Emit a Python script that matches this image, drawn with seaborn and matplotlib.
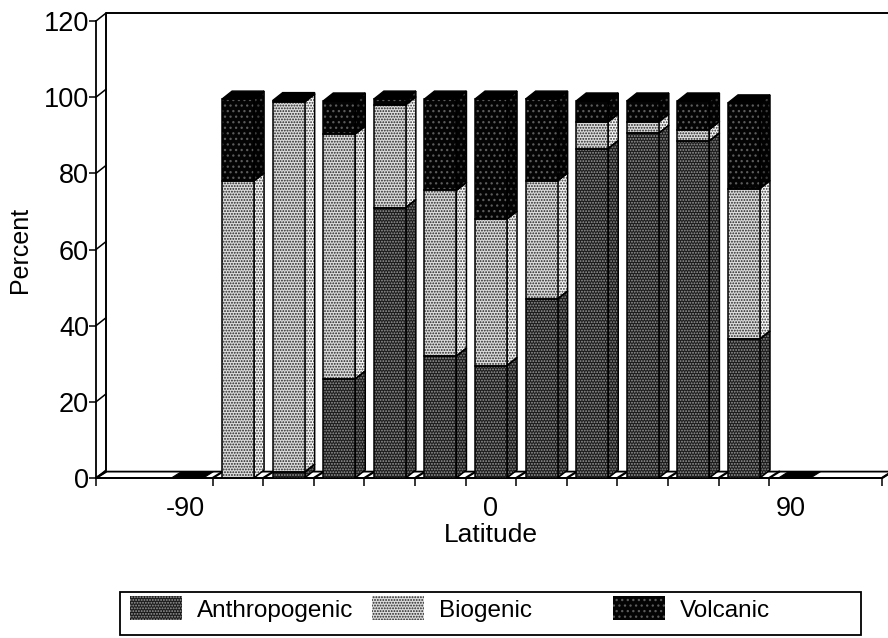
import numpy as np
import pandas as pd
import matplotlib
matplotlib.use("Agg")
import matplotlib.pyplot as plt
from matplotlib.patches import Polygon, Rectangle
import seaborn as sns

latitudes = [-90, -75, -60, -45, -30, -15, 0, 15, 30, 45, 60, 75, 90]
anthropogenic = [0, 0, 1.5, 26, 71, 32, 29.5, 47, 86.5, 90.5, 88.5, 36.5, 0]
biogenic = [0, 78, 97.2, 64.3, 27, 43.5, 38.5, 31, 7, 3, 3, 39.5, 0]
volcanic = [0, 21.5, 0.4, 8.7, 1.5, 24, 31.5, 21.5, 5.5, 5.5, 7.5, 22.5, 0]
series_names = ["Anthropogenic", "Biogenic", "Volcanic"]
tick_values = [0, 20, 40, 60, 80, 100, 120]

sns.set_theme(style="white")
plt.rcParams["font.family"] = ["Liberation Sans", "DejaVu Sans"]
plt.rcParams["hatch.linewidth"] = 0.9

W, H = 888, 638
fig = plt.figure(figsize=(W / 100, H / 100), dpi=100, facecolor="white")
ax = fig.add_axes([96 / W, 1 - 478 / H, (882 - 96) / W, (478 - 21) / H])

df = pd.DataFrame({"lat": latitudes, "Anthropogenic": anthropogenic,
                   "Biogenic": biogenic, "Volcanic": volcanic})
styles = {
    "Anthropogenic": dict(face="#1c1c1c", dots="#9a9a9a", hatch="......", side="#1c1c1c", side_dots="#8a8a8a"),
    "Biogenic": dict(face="#dcdcdc", dots="#222222", hatch="......", side="#f6f6f6", side_dots="#333333"),
    "Volcanic": dict(face="#040404", dots="#5c5c5c", hatch="...", side="#020202", side_dots="#3c3c3c"),
}

XMIN, XMAX = -1.806, 13.73
BAR_W = 0.632
DX, DY = 0.2, 2.1
ax.set_xlim(XMIN, XMAX)
ax.set_ylim(0, 120)
ax.set_facecolor("none")

# floor and walls
floor = Polygon([(XMIN, 0), (XMAX, 0), (XMAX + DX, DY * .8), (XMIN + DX, DY * .8)],
                closed=True, fc="white", ec="black", lw=1.3, clip_on=False, zorder=1)
ax.add_patch(floor)
ax.plot([XMIN + DX, XMIN + DX, XMAX + DX], [DY, 120 + DY, 120 + DY], color="black", lw=1.4,
        clip_on=False, zorder=1)
for t in tick_values:
    ax.plot([XMIN, XMIN + DX], [t, t + DY], color="black", lw=1.1, clip_on=False, zorder=1)

boundaries = [XMIN] + [i + 0.5 for i in range(12)] + [XMAX]
for b in boundaries:
    ax.plot([b, b + DX], [0, DY * .8], color="black", lw=1.6, clip_on=False, zorder=1)

# stacked front faces through seaborn
bottom = np.zeros(len(latitudes))
for name in series_names:
    st = styles[name]
    vals = df[name].to_numpy(float)
    sns.barplot(data=df, x="lat", y=name, order=latitudes, bottom=bottom, width=BAR_W,
                color=st["face"], saturation=1, hatch=st["hatch"], edgecolor=st["dots"],
                linewidth=0, ax=ax, zorder=3, errorbar=None)
    sns.barplot(data=df, x="lat", y=name, order=latitudes, bottom=bottom, width=BAR_W,
                fill=False, color="black", linewidth=1.1, ax=ax, zorder=3.2, errorbar=None)
    # side faces in data coordinates
    for i, (b, v) in enumerate(zip(bottom, vals)):
        if v <= 0:
            continue
        r = i + BAR_W / 2
        ax.add_patch(Polygon([(r, b), (r + DX, b + DY), (r + DX, b + v + DY), (r, b + v)], closed=True,
                             fc=st["side"], ec=st["side_dots"], hatch=st["hatch"], lw=0, zorder=2.5))
        ax.add_patch(Polygon([(r, b), (r + DX, b + DY), (r + DX, b + v + DY), (r, b + v)], closed=True,
                             fc="none", ec="black", lw=1.1, zorder=2.6))
    bottom = bottom + vals

# top faces
for i, total in enumerate(bottom):
    l, r = i - BAR_W / 2, i + BAR_W / 2
    if total > 0:
        ax.add_patch(Polygon([(l, total), (r, total), (r + DX, total + DY), (l + DX, total + DY)], closed=True,
                             fc="black", ec="black", lw=1.0, zorder=3.3))
    else:
        ax.add_patch(Polygon([(l, 0), (r, 0), (r + DX, DY * .8), (l + DX, DY * .8)], closed=True,
                             fc="black", ec="black", lw=0.8, zorder=3.3))

for s in ["top", "right"]:
    ax.spines[s].set_visible(False)
for s in ["left", "bottom"]:
    ax.spines[s].set_color("black")
    ax.spines[s].set_linewidth(1.3)
    ax.spines[s].set_zorder(2)

ax.set_yticks(tick_values)
ax.tick_params(axis="y", which="major", left=True, length=5, width=1.1, color="black",
               labelsize=19.5, labelcolor="black", pad=0)
ax.set_xticks(boundaries)
ax.set_xticklabels([""] * len(boundaries))
ax.tick_params(axis="x", which="major", bottom=True, length=6, width=1.1, color="black")
ax.set_xticks([-0.05, 6, 11.93], labels=["-90", "0", "90"], minor=True)
ax.tick_params(axis="x", which="minor", bottom=False, length=0, labelsize=19.5, labelcolor="black", pad=13)
ax.set_xlabel("Latitude", fontsize=19, color="black")
ax.xaxis.set_label_coords((491 - 96) / (882 - 96), -(535 - 478) / (478 - 21), transform=ax.transAxes)
ax.xaxis.label.set_verticalalignment("center")
ax.set_ylabel("Percent", fontsize=18, color="black")
ax.yaxis.set_label_coords(-(96 - 20) / (882 - 96), (478 - 250) / (478 - 21))
ax.yaxis.label.set_verticalalignment("center")

# legend box and three evenly pitched entries
fig.add_artist(Rectangle((120 / W, 1 - 635 / H), (861 - 120) / W, (635 - 592) / H, transform=fig.transFigure,
                         fc="white", ec="black", lw=1.3))
legend_x = [130, 372, 613]
for name, x in zip(series_names, legend_x):
    st = styles[name]
    edge = "black" if name == "Biogenic" else st["dots"]
    handle = Rectangle((0, 0), 1, 1, fc=st["face"], ec=st["dots"], hatch=st["hatch"], lw=0)
    fig.legend(handles=[handle], labels=[name], loc="center left",
               bbox_to_anchor=(x / W, 1 - 609 / H), bbox_transform=fig.transFigure,
               frameon=False, fontsize=17.5, borderpad=0, borderaxespad=0,
               handlelength=2.15, handleheight=1.15, handletextpad=0.6, labelcolor="black")

fig.savefig("out.png", dpi=100, facecolor="white")
